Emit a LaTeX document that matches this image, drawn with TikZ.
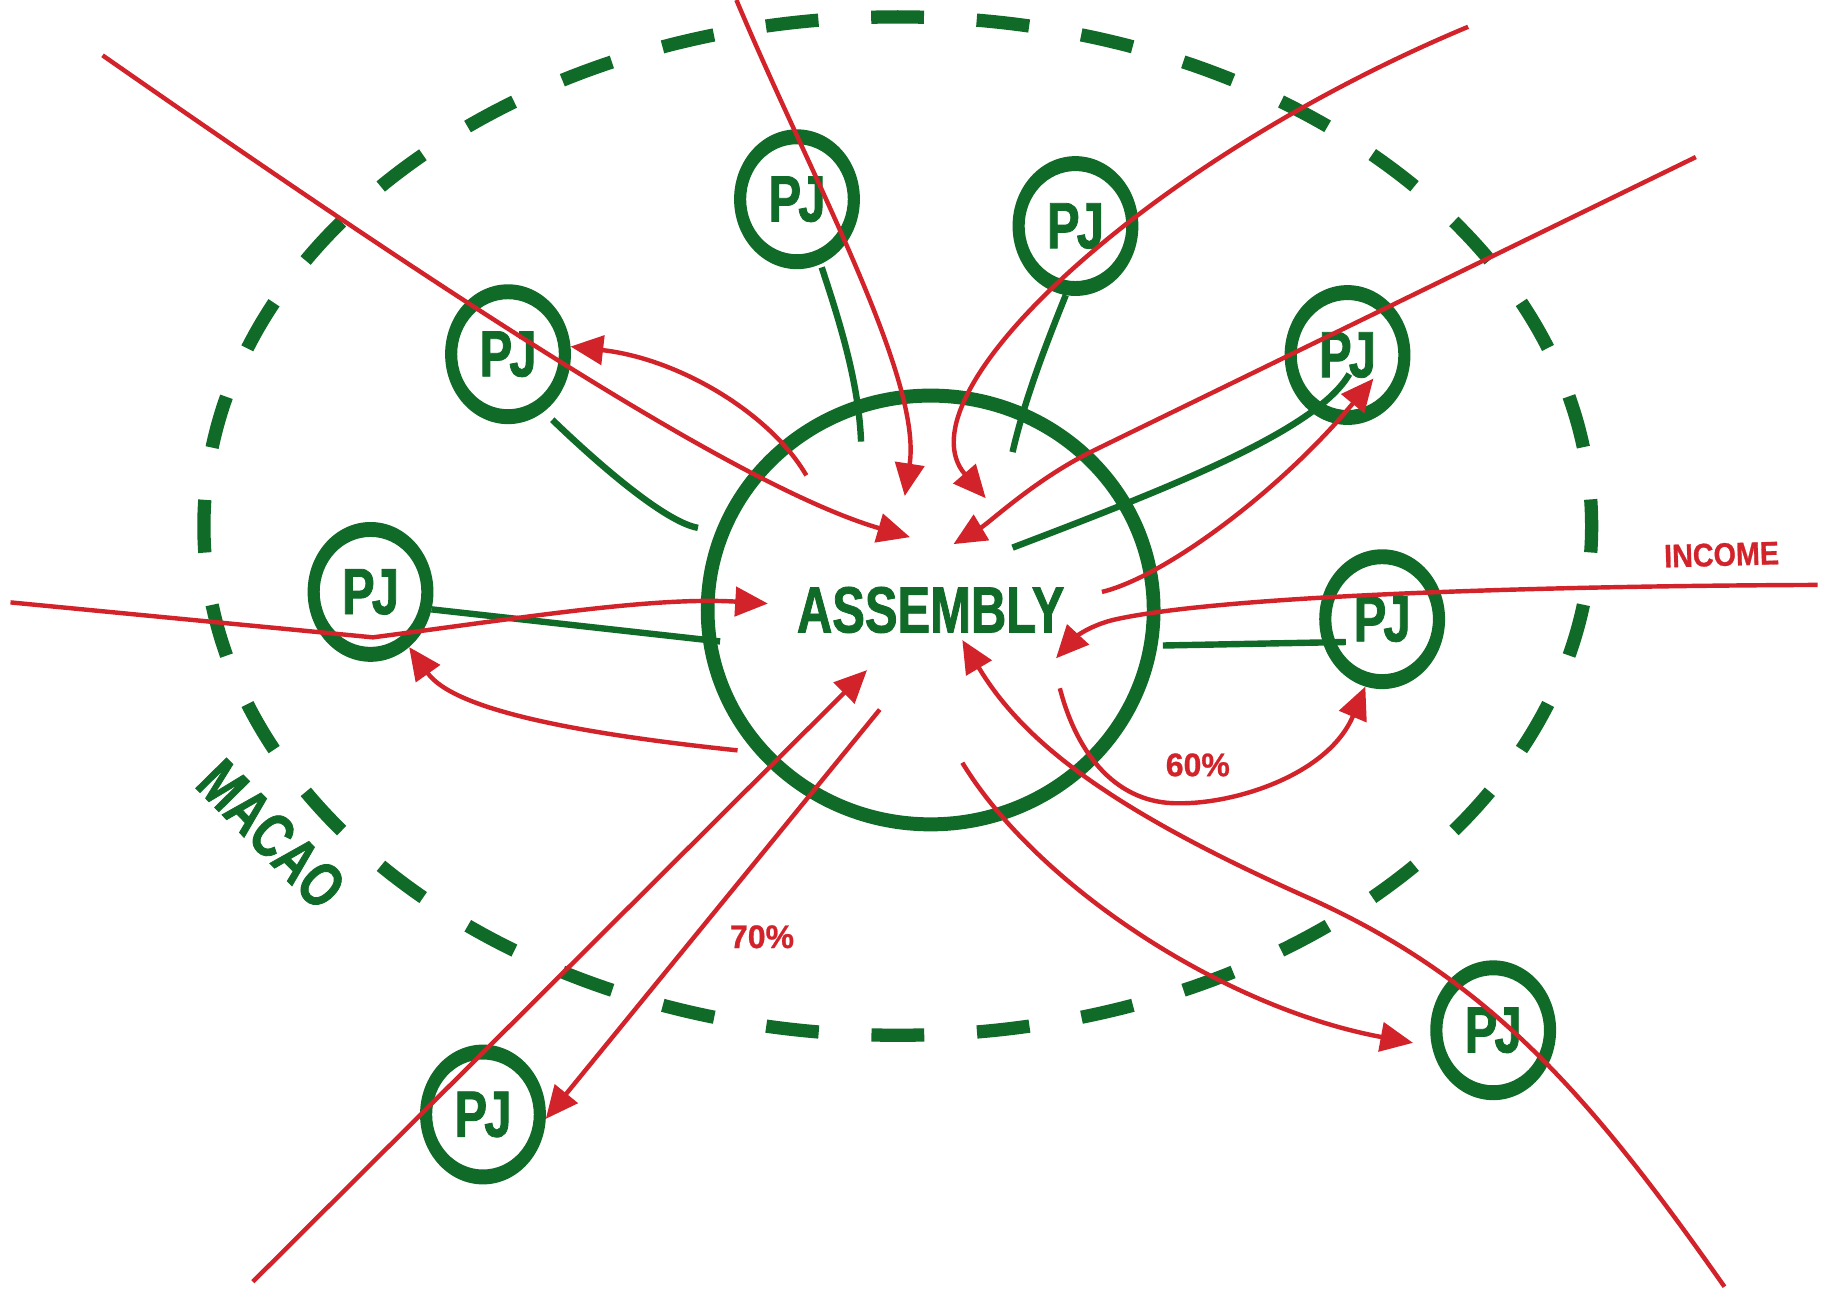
\documentclass[tikz,border=0pt]{standalone}
\usepackage{fontspec}
\setmainfont{Liberation Sans}
\newfontfamily\pjfam[FakeStretch=0.75,FakeBold=1.2]{Liberation Sans}
\newfontfamily\incfam[FakeStretch=0.88,FakeBold=0.8]{Liberation Sans}
\newfontfamily\pctfam[FakeStretch=0.98,FakeBold=0.8]{Liberation Sans}
\usetikzlibrary{arrows.meta,shapes.geometric}
\definecolor{pjgreen}{RGB}{16,106,40}
\definecolor{pjred}{RGB}{210,35,43}
\tikzset{
  pjnode/.style={ellipse, minimum width=108pt, minimum height=120pt, inner sep=0pt, outer sep=0pt, text=pjgreen, font=\pjfam\bfseries\fontsize{56pt}{56pt}\selectfont},
  ringfill/.style={fill=pjgreen, even odd rule},
  gline/.style={draw=pjgreen, line width=5.5pt},
  rline/.style={draw=pjred, line width=3.8pt},
  rarrow/.style={rline, -{Triangle[length=28pt,width=25pt]}},
  redlabel/.style={text=pjred, inner sep=0pt, font=\pctfam\bfseries\fontsize{28pt}{28pt}\selectfont},
}
\begin{document}
\begin{tikzpicture}[x=1pt,y=-1pt]
\useasboundingbox (0,0) rectangle (1568,1107);
\fill[white] (0,0) rectangle (1568,1107);
% outer dashed border
\draw[pjgreen, line width=11.4pt, dash pattern=on 45.32pt off 45.32pt, dash phase=22.66pt] (770.5,451.5) ellipse [x radius=595.5, y radius=437];
% assembly
\node[ellipse, minimum width=394pt, minimum height=380pt, inner sep=0pt, outer sep=0pt, text=pjgreen, font=\pjfam\bfseries\fontsize{56pt}{56pt}\selectfont] (asm) at (798.7,523.5) {ASSEMBLY};
\fill[ringfill] (asm.center) ellipse [x radius=197.3, y radius=190] (asm.center) ellipse [x radius=185.5, y radius=178];
% PJ nodes
\foreach \n/\x/\y in {pjA/684/171, pjB/923/194, pjC/436/304, pjD/1156.5/304.7, pjE/318/508, pjF/1186.2/531.4, pjG/1281.5/884.2, pjH/414.5/956.5}{
  \node[pjnode] (\n) at (\x,\y) {P\kern-2.5pt J};
  \fill[ringfill] (\x,\y) ellipse [x radius=54, y radius=60] (\x,\y) ellipse [x radius=43.6, y radius=47.2];
}
% labels
\node[text=pjgreen, inner sep=0pt, font=\pjfam\bfseries\fontsize{54pt}{54pt}\selectfont, rotate=-45.4] (macao) at (233,716) {MACAO};
\node[redlabel, font=\incfam\bfseries\fontsize{28pt}{28pt}\selectfont, rotate=1.65] (income) at (1477.5,476) {INCOME};
\node[redlabel] (p60) at (1028,656.5) {60\%};
\node[redlabel] (p70) at (654,804) {70\%};
% free ends
\coordinate (g1e) at (739,379);
\coordinate (g2e) at (869,388);
\coordinate (g3e) at (599,453);
\coordinate (g4s) at (1158,321);
\coordinate (g4e) at (869,470);
\coordinate (g5e) at (618,550.5);
\coordinate (g6s) at (1155,551);
\coordinate (g6e) at (998,554);
\coordinate (r1s) at (88,47.5);
\coordinate (r1e) at (781,461);
\coordinate (r2s) at (632,0);
\coordinate (r2e) at (776.5,425.7);
\coordinate (r3s) at (1260,23);
\coordinate (r3e) at (846,427.6);
\coordinate (r4s) at (1455.4,134.8);
\coordinate (r4e) at (818.3,467);
\coordinate (r5s) at (1560,502);
\coordinate (r5e) at (906.3,565);
\coordinate (r6s) at (945.7,508);
\coordinate (r6e) at (1178.7,324.9);
\coordinate (r7s) at (909.6,590.7);
\coordinate (r8s) at (1480,1104.3);
\coordinate (r8m) at (1124,771);
\coordinate (r8e) at (825.9,549.3);
\coordinate (r9s) at (825.9,654.6);
\coordinate (r9e) at (1212.7,895);
\coordinate (r10as) at (217,1100);
\coordinate (r10ae) at (744.1,575.1);
\coordinate (r10bs) at (755,609);
\coordinate (r11s) at (633,644);
\coordinate (r12s) at (9,517);
\coordinate (r12k) at (320,547);
\coordinate (r12e) at (659,518);
\coordinate (r13s) at (692,408);
% green connectors
\draw[gline, shorten <=3pt] (pjA.-70) .. controls (722,280) and (737,330) .. (g1e);
\draw[gline] (pjB.-98) .. controls (900,290) and (880,340) .. (g2e);
\draw[gline, shorten <=10pt] (pjC.-58) .. controls (510,395) and (570,448) .. (g3e);
\draw[gline] (g4s) .. controls (1130,370) and (1000,420) .. (g4e);
\draw[gline] (pjE.-16) -- (g5e);
\draw[gline] (g6s) -- (g6e);
% red connectors
\draw[rarrow] (r1s) .. controls (400,265) and (640,420) .. (r1e);
\draw[rarrow] (r2s) .. controls (695,150) and (792,325) .. (r2e);
\draw[rarrow] (r3s) .. controls (980,140) and (770,340) .. (r3e);
\draw[rarrow] (r4s) -- (940,386) .. controls (890,410) and (850,448) .. (r4e);
\draw[rarrow] (r5s) .. controls (1300,503) and (1050,512) .. (960,531) .. controls (935,536) and (922,548) .. (r5e);
\draw[rarrow] (r6s) .. controls (1000,495) and (1100,420) .. (r6e);
\draw[rarrow] (r7s) .. controls (925,650) and (960,690) .. (1011.6,689.4) .. controls (1060,690) and (1140,665) .. (pjF.-104);
\draw[rarrow] (r8s) .. controls (1365,940.7) and (1278.7,840.7) .. (r8m) .. controls (960,698) and (880,640) .. (r8e);
\draw[rarrow] (r9s) .. controls (890,760) and (1050,865) .. (r9e);
\draw[rarrow] (r10as) -- (r10ae);
\draw[rarrow] (r10bs) -- (pjH.-4);
\draw[rarrow] (r11s) .. controls (500,630) and (390,610) .. (pjE.-55);
\draw[rarrow] (r12s) -- (r12k) .. controls (450,530) and (560,512) .. (r12e);
\draw[rarrow] (r13s) .. controls (662,356) and (584,308) .. (pjC.7);
\end{tikzpicture}
\end{document}
